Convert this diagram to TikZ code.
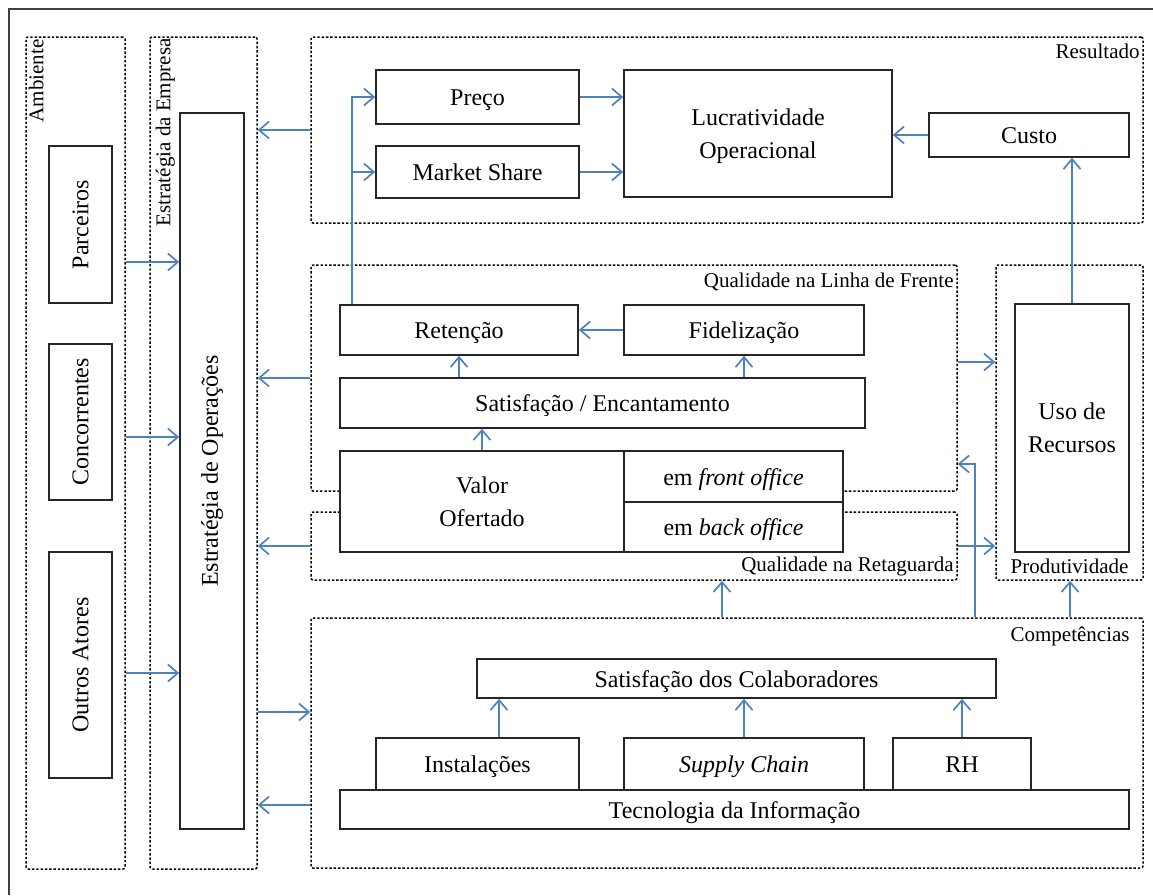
\documentclass[tikz,border=0pt]{standalone}
\usepackage{fontspec}
\setmainfont{Liberation Serif}
\usetikzlibrary{arrows.meta,calc}
\definecolor{ab}{RGB}{79,129,189}
\newcommand\mybox[7]{\node[#1, minimum width={(#5)-(#3)}, minimum height={(#6)-(#4)}] (#2) at ({((#3)+(#5))/2},{((#4)+(#6))/2}) {#7};}
\begin{document}
\begin{tikzpicture}[x=1pt,y=-1pt,
  box/.style={draw=black!85, fill=white, line width=1.6pt, inner sep=0pt, font=\fontsize{24}{33}\selectfont, align=center},
  one/.style={box, text height=17pt, text depth=0pt},
  two/.style={box, text depth=0pt},
  vbox/.style={box},
  grp/.style={draw=black, line width=1.5pt, dash pattern=on 2.4pt off 1.9pt, rounded corners=2pt, inner sep=0pt},
  lbl/.style={font=\fontsize{21}{24}\selectfont, inner sep=1pt},
  arr/.style={draw=ab, line width=1.9pt, -{Straight Barb[length=10pt,width=17pt,line width=1.7pt]}}]
\useasboundingbox (0,0) rectangle (1153,895);
\draw[line width=1.6pt, draw=black!75] (9,895) -- (9,9) -- (1153,9);

% groups
\mybox{grp}{amb}{26}{37}{125}{869}{}
\mybox{grp}{emp}{150}{37}{257}{869}{}
\mybox{grp}{res}{311}{37}{1143}{223}{}
\mybox{grp}{lf}{311}{265}{957}{491}{}
\mybox{grp}{retg}{311}{512}{957}{580}{}
\mybox{grp}{prod}{996}{265}{1143}{580}{}
\mybox{grp}{comp}{311}{618}{1143}{868}{}

% group labels
\node[lbl, rotate=90, anchor=east] at ([xshift=11pt,yshift=-2pt]amb.north west) {Ambiente};
\node[lbl, rotate=90, anchor=east] at ([xshift=16pt,yshift=-1pt]emp.north west) {Estratégia da Empresa};
\node[lbl, anchor=east] at ([xshift=-3pt,yshift=-15pt]res.north east) {Resultado};
\node[lbl, anchor=east] at ([xshift=-3pt,yshift=-18pt]lf.north east) {Qualidade na Linha de Frente};
\node[lbl, anchor=east] at ([xshift=-3pt,yshift=14pt]retg.south east) {Qualidade na Retaguarda};
\node[lbl] at ([yshift=14pt]prod.south) {Produtividade};
\node[lbl, anchor=east] at ([xshift=-13pt,yshift=-19pt]comp.north east) {Competências};

% boxes
\mybox{vbox}{parc}{49}{146}{112}{303}{\rotatebox{90}{Parceiros}}
\mybox{vbox}{conc}{49}{344}{112}{500}{\rotatebox{90}{Concorrentes}}
\mybox{vbox}{outros}{49}{552}{112}{778}{\rotatebox{90}{Outros Atores}}
\mybox{vbox}{ops}{180}{113}{244}{829}{\rotatebox{90}{Estratégia de Operações}}

\mybox{one}{preco}{376}{70}{579}{124}{Preço}
\mybox{one}{ms}{376}{146}{579}{198}{Market Share}
\mybox{two}{lucr}{624}{70}{892}{197}{Lucratividade\\Operacional}
\mybox{one}{custo}{929}{113}{1129}{157}{Custo}

\mybox{one}{ret}{340}{305}{578}{355}{Retenção}
\mybox{one}{fid}{624}{305}{864}{355}{Fidelização}
\mybox{one}{sat}{340}{378}{865}{428}{Satisfação / Encantamento}
\mybox{two}{valor}{340}{451}{624}{552}{Valor\\Ofertado}
\mybox{one}{front}{624}{451}{843}{502}{em \textit{front office}}
\mybox{one}{back}{624}{502}{843}{552}{em \textit{back office}}
\mybox{two}{uso}{1015}{304}{1129}{552}{Uso de\\Recursos}

\mybox{one}{sc}{477}{659}{996}{698}{Satisfação dos Colaboradores}
\mybox{one}{inst}{376}{738}{579}{790}{Instalações}
\mybox{one}{supply}{624}{738}{864}{790}{\textit{Supply Chain}}
\mybox{one}{rh}{893}{738}{1031}{790}{RH}
\mybox{one}{ti}{340}{790}{1129}{829}{Tecnologia da Informação}

% helper coordinates
\path ([yshift=191pt]amb.east) coordinate (p1)
      ([yshift=16pt]amb.east) coordinate (p2)
      ([yshift=-220pt]amb.east) coordinate (p3)
      ([yshift=31pt]comp.west) coordinate (q1)
      ([yshift=-62pt]comp.west) coordinate (q2)
      ([xshift=13pt]ret.north west) coordinate (r1)
      ([yshift=16pt]lf.east) coordinate (s1)
      ([xshift=-5pt]comp.north) coordinate (c1)
      ([xshift=248pt]comp.north) coordinate (c2)
      ([yshift=-86pt]lf.east) coordinate (t2)
      ([xshift=21.5pt]inst.north) coordinate (i1)
      ([xshift=0.5pt]prod.south) coordinate (u1);

% arrows
\draw[arr] (p1) -- (p1 -| ops.west);
\draw[arr] (p2) -- (p2 -| ops.west);
\draw[arr] (p3) -- (p3 -| ops.west);
\draw[arr] (res.west) -- (res.west -| emp.east);
\draw[arr] (lf.west) -- (lf.west -| emp.east);
\draw[arr] (retg.west) -- (retg.west -| emp.east);
\draw[arr] (q1 -| emp.east) -- (q1);
\draw[arr] (q2) -- (q2 -| emp.east);

\draw[arr] (preco.east) -- (preco.east -| lucr.west);
\draw[arr] (ms.east) -- (ms.east -| lucr.west);
\draw[arr] (custo.west) -- (custo.west -| lucr.east);
\draw[arr] (r1) |- (preco.west);
\draw[arr] (r1 |- ms.west) -- (ms.west);

\draw[arr] (fid.west) -- (ret.east);
\draw[arr] (sat.north -| ret.south) -- (ret.south);
\draw[arr] (sat.north -| fid.south) -- (fid.south);
\draw[arr] (valor.north) -- (valor.north |- sat.south);
\draw[arr] (uso.north) -- (uso.north |- custo.south);
\draw[arr] (s1) -- (s1 -| prod.west);
\draw[arr] (retg.east) -- (retg.east -| prod.west);
\draw[arr] (c1) -- (c1 |- retg.south);
\draw[arr] (comp.north -| u1) -- (u1);
\draw[arr] (c2) |- (t2);

\draw[arr] (i1) -- (i1 |- sc.south);
\draw[arr] (supply.north) -- (supply.north |- sc.south);
\draw[arr] (rh.north) -- (rh.north |- sc.south);
\end{tikzpicture}
\end{document}
